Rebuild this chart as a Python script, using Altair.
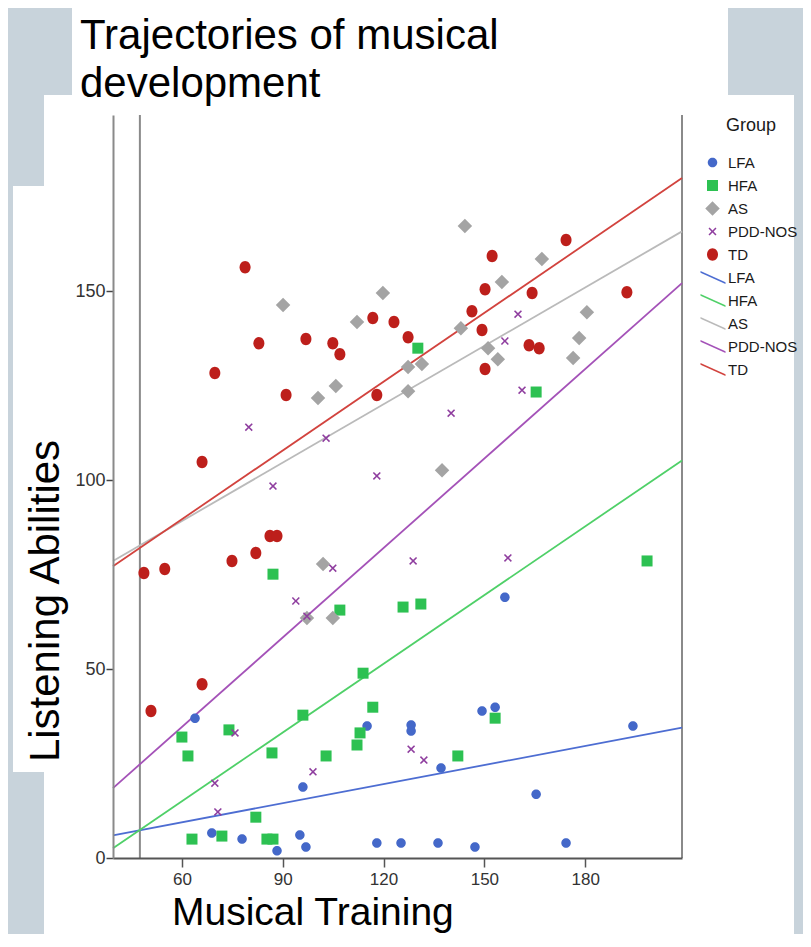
import altair as alt
import pandas as pd

# ---------------- data ----------------
groups = ["LFA", "HFA", "AS", "PDD-NOS", "TD"]

lfa_x = [63.9, 68.9, 77.9, 88.3, 95.1, 96.9, 96.0, 115.1, 118.0, 125.2, 128.2, 128.2,
         136.2, 137.1, 147.2, 149.3, 153.2, 156.1, 165.4, 174.3, 194.2]
lfa_y = [37.0, 6.6, 5.0, 1.9, 6.1, 2.9, 18.8, 34.9, 4.0, 4.0, 35.2, 33.6,
         4.0, 23.8, 2.9, 38.9, 39.9, 69.0, 16.9, 4.0, 34.9]

hfa_x = [60.0, 61.8, 63.0, 71.9, 74.0, 82.0, 85.3, 87.1, 87.1, 86.8, 96.0, 102.9,
         107.0, 112.1, 113.0, 113.9, 116.8, 125.8, 131.1, 130.2, 142.1, 153.2, 165.4, 198.4]
hfa_y = [32.0, 27.0, 5.0, 5.8, 33.9, 10.8, 5.0, 5.0, 75.1, 27.8, 37.8, 27.0,
         65.6, 29.9, 33.1, 48.9, 39.9, 66.4, 67.2, 134.9, 27.0, 37.0, 123.3, 78.6]

as_x = [90.1, 100.5, 105.8, 112.1, 119.8, 102.0, 97.2, 104.9, 127.3, 131.4, 127.3,
        137.4, 143.0, 144.2, 151.1, 154.0, 155.2, 167.1, 176.4, 178.2, 180.5]
as_y = [146.3, 121.7, 124.9, 141.8, 149.5, 77.8, 63.5, 63.5, 129.9, 130.7, 123.5,
        102.6, 140.2, 167.2, 134.9, 132.0, 152.4, 158.5, 132.3, 137.6, 144.4]

pdd_x = [79.9, 87.1, 102.9, 118.0, 140.1, 160.0, 156.1, 161.2, 128.8, 157.0, 104.9,
         93.9, 97.2, 75.8, 69.8, 70.7, 99.0, 128.2, 132.0]
pdd_y = [114.0, 98.4, 111.1, 101.1, 117.7, 143.9, 136.8, 123.8, 78.6, 79.4, 76.7,
         68.0, 64.0, 33.1, 19.8, 12.2, 22.8, 28.8, 25.9]

td_x = [50.8, 48.7, 54.9, 66.0, 66.0, 69.8, 78.8, 74.9, 82.0, 82.9, 86.2, 88.3, 91.0,
        96.9, 104.9, 107.0, 116.8, 118.0, 123.1, 127.3, 146.3, 149.3, 150.2, 150.2,
        152.3, 163.3, 164.2, 166.3, 174.3, 192.4]
td_y = [38.9, 75.4, 76.5, 46.0, 104.8, 128.3, 156.3, 78.6, 80.7, 136.2, 85.2, 85.2, 122.5,
        137.3, 136.2, 133.3, 142.9, 122.5, 141.8, 137.8, 144.7, 139.7, 150.5, 129.4,
        159.3, 135.7, 149.5, 134.9, 163.5, 149.7]

# fitted lines: value at left and right end of the x range
fit_x = [39.5, 208.8]
fit_y_start = [6.0, 2.6, 78.6, 18.5, 77.2]
fit_y_end = [34.5, 105.2, 165.8, 152.1, 179.9]

ref_line_x = [47.5]
x_domain = [39.5, 208.8]
y_domain = [0, 196.6]
x_ticks = [60, 90, 120, 150, 180]
y_ticks = [0, 50, 100, 150]

title_lines = ["Trajectories of musical", "development"]
x_title = ["Musical Training"]
y_title = ["Listening Abilities"]
legend_title = "Group"

# ---------------- tables ----------------
xs = [lfa_x, hfa_x, as_x, pdd_x, td_x]
ys = [lfa_y, hfa_y, as_y, pdd_y, td_y]
rows = []
for g, gx, gy in zip(groups, xs, ys):
    for a, b in zip(gx, gy):
        rows.append({"key": g, "x": a, "y": b})
pts = pd.DataFrame(rows)

fit_keys = [g + " fit" for g in groups]
fit_rows = []
for k, s, e in zip(fit_keys, fit_y_start, fit_y_end):
    fit_rows.append({"key": k, "x": fit_x[0], "y": s})
    fit_rows.append({"key": k, "x": fit_x[1], "y": e})
fits = pd.DataFrame(fit_rows)

keys = groups + fit_keys
point_colors = ["#4468c9", "#2dc152", "#a4a4a4", "#8f3e9f", "#bd1f1b"]
line_colors = ["#4d6dd2", "#4fd068", "#bababa", "#a452b8", "#d2433e"]
line_path = "M-2.4,-1.3L2.6,0.95L2.6,1.28L-2.4,-0.97Z"
shapes = [
    "M-0.95,0A0.95,0.95 0 1,0 0.95,0A0.95,0.95 0 1,0 -0.95,0Z",
    "M-1.1,-1.1L1.1,-1.1L1.1,1.1L-1.1,1.1Z",
    "M0,-1.45L1.45,0L0,1.45L-1.45,0Z",
    "M-0.8,-0.58L-0.58,-0.8L0,-0.22L0.58,-0.8L0.8,-0.58L0.22,0L0.8,0.58L0.58,0.8L0,0.22L-0.58,0.8L-0.8,0.58L-0.22,0Z",
    "M-1.1,0A1.1,1.25 0 1,0 1.1,0A1.1,1.25 0 1,0 -1.1,0Z",
] + [line_path] * 5

color_scale = alt.Scale(domain=keys, range=point_colors + line_colors)
shape_scale = alt.Scale(domain=keys, range=shapes)
stroke_scale = alt.Scale(domain=fit_keys, range=line_colors)

SANS = "Liberation Sans, Arial, sans-serif"

W, H = 569, 743
xscale = alt.Scale(domain=x_domain, nice=False, zero=False)
yscale = alt.Scale(domain=y_domain, nice=False, zero=False)
x_axis = alt.Axis(values=x_ticks, title=None, grid=False, domainColor="#555555", domainWidth=2,
                  tickColor="#555555", tickWidth=1.5, tickSize=9, labelPadding=4,
                  labelFont=SANS, labelFontSize=17, labelColor="#333333",
                  labelFlush=False, zindex=1)
y_axis = alt.Axis(values=y_ticks, title=None, grid=False, domainColor="#8a8a8a", domainWidth=2,
                  tickColor="#444444", tickWidth=1.5, tickSize=7, labelPadding=1,
                  labelFont=SANS, labelFontSize=18, labelColor="#333333",
                  labelFlush=False, zindex=1)
X = alt.X("x:Q", scale=xscale, axis=x_axis)
Y = alt.Y("y:Q", scale=yscale, axis=y_axis)

legend = alt.Legend(title=legend_title, orient="none", legendX=592, legendY=2,
                    symbolSize=100, symbolStrokeWidth=0, symbolOpacity=1,
                    labelExpr="replace(datum.label, ' fit', '')",
                    labelFont=SANS, labelFontSize=15, labelColor="#1a1a1a", labelOffset=8,
                    titleFont=SANS, titleFontSize=18, titleFontWeight="normal",
                    titleColor="#1a1a1a", titleAnchor="middle", titlePadding=20,
                    rowPadding=7, padding=0)

def panel(x, x2, y, y2):
    return alt.Chart(alt.Data(values=[{}])).mark_rect(color="#ffffff").encode(
        x=alt.value(x), x2=alt.value(x2), y=alt.value(y), y2=alt.value(y2))

panels = [
    panel(-69, 681, -20, 822),
    panel(-41, 615, -112, -18),
    panel(-100, -3, 71, 657),
    panel(49, 550, 780, 840),
]

ref_rule = alt.Chart(pd.DataFrame({"x": ref_line_x})).mark_rule(
    color="#8a8a8a", strokeWidth=2).encode(x=X)

right_rule = alt.Chart(alt.Data(values=[{}])).mark_rule(
    color="#8a8a8a", strokeWidth=2).encode(x=alt.value(W), y=alt.value(0), y2=alt.value(H))

fit_lines = alt.Chart(fits).mark_line(strokeWidth=1.8).encode(
    x=X, y=Y, detail="key:N",
    stroke=alt.Stroke("key:N", scale=stroke_scale, legend=None))

points = alt.Chart(pts).mark_point(filled=True, opacity=1, size=100, strokeWidth=0).encode(
    x=X, y=Y,
    color=alt.Color("key:N", scale=color_scale, legend=legend),
    shape=alt.Shape("key:N", scale=shape_scale, legend=legend))

title_txt = alt.Chart(pd.DataFrame({"t": ["\n".join(title_lines)]})).mark_text(
    font=SANS, fontSize=42, color="#000000", align="left", baseline="alphabetic",
    lineBreak="\n", lineHeight=48, x=-33, y=-66).encode(text="t:N")

xt_txt = alt.Chart(pd.DataFrame({"t": x_title})).mark_text(
    font=SANS, fontSize=39, color="#000000", align="left", baseline="alphabetic",
    x=59, y=810).encode(text="t:N")

yt_txt = alt.Chart(pd.DataFrame({"t": y_title})).mark_text(
    font=SANS, fontSize=42, color="#000000", align="center", baseline="alphabetic",
    angle=270, x=-54, y=486).encode(text="t:N")

chart = alt.layer(*panels, ref_rule, right_rule, fit_lines, points, title_txt, xt_txt, yt_txt).properties(
    width=W, height=H, background="#c8d3db",
    padding={"left": 105, "top": 107, "right": 121, "bottom": 76},
    autosize=alt.AutoSizeParams(type="none"),
).configure_view(stroke=None)

chart.save("out.html", embed_options={"renderer": "svg", "actions": False})
